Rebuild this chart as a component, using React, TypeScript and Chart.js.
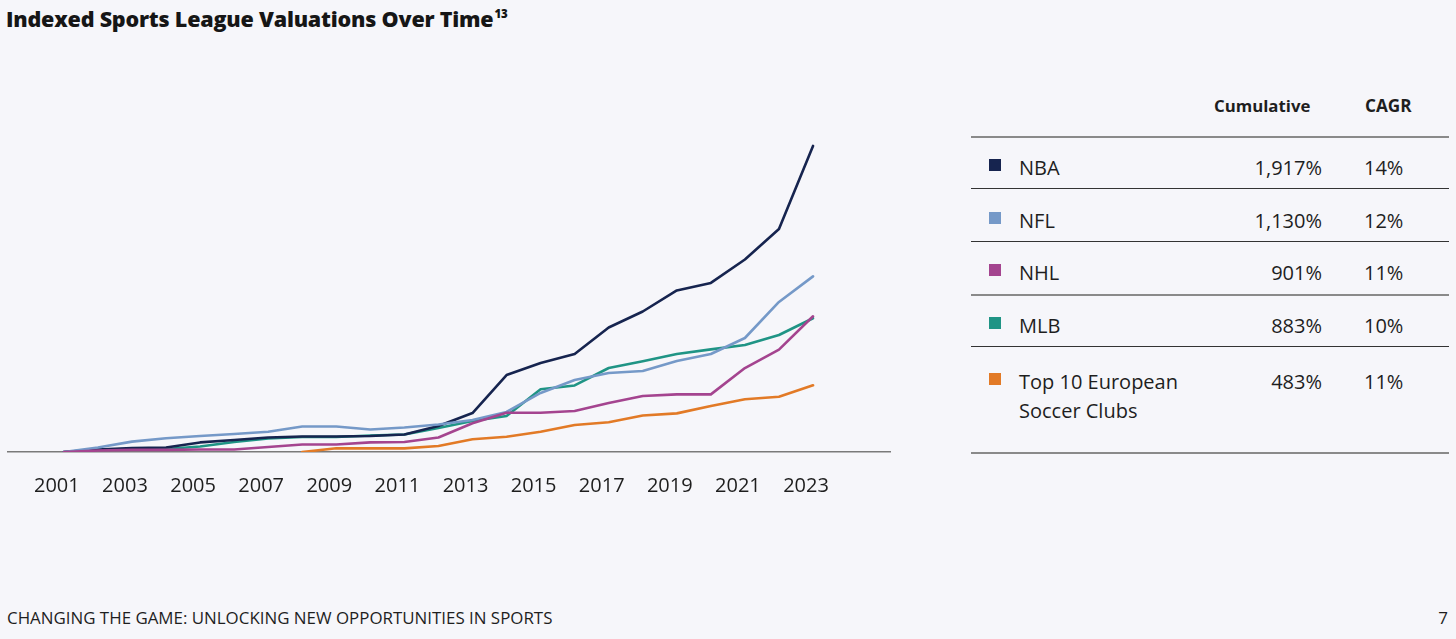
import React, { useEffect, useRef } from "react";
import { Chart, registerables } from "chart.js";
Chart.register(...registerables);

const YEARS = [2001, 2002, 2003, 2004, 2005, 2006, 2007, 2008, 2009, 2010, 2011, 2012, 2013, 2014, 2015, 2016, 2017, 2018, 2019, 2020, 2021, 2022, 2023];
const TICK_YEARS = [2001, 2003, 2005, 2007, 2009, 2011, 2013, 2015, 2017, 2019, 2021, 2023];

const NBA = [0, 16, 25, 28, 60, 75, 91, 97, 97, 100, 110, 163, 244, 482, 558, 614, 780, 880, 1012, 1059, 1206, 1397, 1917];
const NFL = [0, 28, 65, 86, 100, 113, 127, 160, 160, 141, 153, 172, 200, 251, 370, 451, 495, 507, 570, 614, 714, 940, 1100];
const NHL = [0, 9, 13, 13, 16, 16, 31, 47, 47, 60, 63, 91, 180, 246, 246, 257, 307, 351, 361, 361, 526, 641, 850];
const MLB = [0, 16, 19, 19, 34, 63, 85, 94, 94, 103, 110, 150, 194, 226, 393, 417, 526, 568, 614, 643, 670, 733, 838];
const SOCCER = [null, null, null, null, null, null, null, 0, 23, 23, 23, 38, 80, 96, 127, 169, 186, 229, 242, 288, 330, 346, 418];

const SERIES_NAMES = ["NBA", "NFL", "NHL", "MLB", "Top 10 European Soccer Clubs"];
const CUMULATIVE = ["1,917%", "1,130%", "901%", "883%", "483%"];
const CAGR = ["14%", "12%", "11%", "10%", "11%"];
const COLORS = ["#16244F", "#7599C8", "#A4448F", "#1F9485", "#E27A26"];
const SERIES_VALUES = [NBA, NFL, NHL, MLB, SOCCER];

const TITLE = "Indexed Sports League Valuations Over Time";
const TITLE_NOTE = "13";
const FOOTER = "CHANGING THE GAME: UNLOCKING NEW OPPORTUNITIES IN SPORTS";
const PAGE = "7";

const FONT = "'Open Sans', 'Noto Sans', sans-serif";

function LineChart() {
  const ref = useRef<HTMLCanvasElement | null>(null);
  useEffect(() => {
    if (!ref.current) return;
    const order = [4, 2, 1, 0, 3];
    const chart = new Chart(ref.current, {
      type: "line",
      data: {
        datasets: order.map((i) => ({
          label: SERIES_NAMES[i],
          data: YEARS.map((yr, k) => ({ x: yr, y: SERIES_VALUES[i][k] as any })),
          borderColor: COLORS[i],
          backgroundColor: COLORS[i],
          borderWidth: 2.6,
          pointRadius: 0,
          tension: 0,
          spanGaps: false,
          borderJoinStyle: "round" as const,
          borderCapStyle: "round" as const,
        })),
      },
      options: {
        animation: false,
        responsive: false,
        layout: { padding: 0 },
        plugins: { legend: { display: false }, tooltip: { enabled: false } },
        scales: {
          x: {
            type: "linear",
            min: 1999.33,
            max: 2025.29,
            grid: { display: false, drawTicks: false },
            border: { display: true, color: "#7a7a7a", width: 1.6 },
            afterBuildTicks: (scale: any) => {
              scale.ticks = TICK_YEARS.map((v) => ({ value: v }));
            },
            ticks: {
              padding: 22,
              labelOffset: -7,
              color: "#1e1e1e",
              font: { family: FONT, size: 20 },
              callback: (v: any) => String(v),
              maxRotation: 0,
              autoSkip: false,
            },
          },
          y: {
            display: false,
            min: 0,
            max: 2017,
          },
        },
      },
    });
    return () => chart.destroy();
  }, []);
  return <canvas ref={ref} width={884} height={390} style={{ position: "absolute", left: 7, top: 130, width: 884, height: 390 }} />;
}

export default function App() {
  const lineTops = [136.7, 189.3, 242.3, 295, 347.3];
  const textCenters = [167.7, 220, 272.7, 325.7, 381.7];
  const TL = 971;
  return (
    <div style={{ position: "fixed", left: 0, top: 0, width: 1456, height: 639, background: "#F6F6FA", fontFamily: FONT, color: "#1e1e1e", overflow: "hidden" }}>
      <div style={{ position: "absolute", left: 6, top: 3, fontSize: 21.5, fontWeight: 800, lineHeight: "32px", whiteSpace: "nowrap", color: "#161616", letterSpacing: -0.2 }}>
        {TITLE}
        <span style={{ fontSize: 11.5, position: "relative", top: -9, marginLeft: 1 }}>{TITLE_NOTE}</span>
      </div>
      <LineChart />
      {/* table */}
      <div style={{ position: "absolute", left: 1214, top: 94, fontSize: 16.8, fontWeight: 700, lineHeight: "24px", whiteSpace: "nowrap" }}>Cumulative</div>
      <div style={{ position: "absolute", left: 1365, top: 94, fontSize: 17.2, fontWeight: 700, lineHeight: "24px", whiteSpace: "nowrap" }}>CAGR</div>
      {lineTops.map((t, i) => (
        <div key={"l" + i} style={{ position: "absolute", left: TL, width: 478, top: t - 1, height: 0, borderTop: i === 0 || i === 3 ? "2px solid #8a8a8a" : "1.5px solid #333" }} />
      ))}
      <div style={{ position: "absolute", left: TL, width: 478, top: 451.7, height: 0, borderTop: "2px solid #8a8a8a" }} />
      {SERIES_NAMES.map((name, i) => (
        <React.Fragment key={name}>
          <div style={{ position: "absolute", left: 989, top: textCenters[i] - 8.5, width: 12, height: 12, background: COLORS[i] }} />
          <div style={{ position: "absolute", left: 1019, top: textCenters[i] - 14.5, width: 190, fontSize: 20, lineHeight: "29px" }}>{name}</div>
          <div style={{ position: "absolute", left: 1222, width: 100, textAlign: "right", top: textCenters[i] - 14.5, fontSize: 20, lineHeight: "29px" }}>{CUMULATIVE[i]}</div>
          <div style={{ position: "absolute", left: 1364, top: textCenters[i] - 14.5, fontSize: 20, lineHeight: "29px" }}>{CAGR[i]}</div>
        </React.Fragment>
      ))}
      <div style={{ position: "absolute", left: 7, top: 606, fontSize: 16.9, lineHeight: "24px", whiteSpace: "nowrap", color: "#1e1e1e" }}>{FOOTER}</div>
      <div style={{ position: "absolute", right: 8, top: 606, fontSize: 17, lineHeight: "24px" }}>{PAGE}</div>
    </div>
  );
}
